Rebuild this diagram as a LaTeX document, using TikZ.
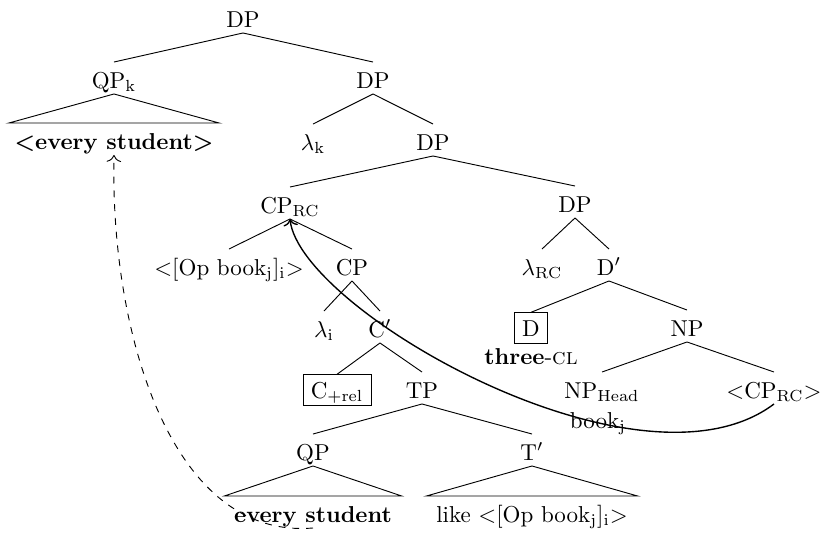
\documentclass[tikz,border=0pt]{standalone}
\usetikzlibrary{arrows.meta}
\begin{document}
\begin{tikzpicture}[x=0.4348pt,y=-0.4348pt,
  lbl/.style={inner sep=0pt,outer sep=0pt,text height=11.3pt,text depth=2.6pt,anchor=base},
  tri/.style={lbl,inner xsep=4.3pt},
  boxed/.style={draw,line width=0.4pt,inner sep=3.4pt,outer sep=0pt,text height=6.9pt,text depth=0pt,anchor=base},
  note/.style={inner sep=0pt,outer sep=0pt,anchor=base},
  edge/.style={line width=0.4pt},
  move/.style={line width=0.6pt,-{To[length=3pt]}},
  qmove/.style={line width=0.4pt,dashed,-{To[length=3pt]}}]
\useasboundingbox (0,0) rectangle (822,532);

% level 0--2
\node[lbl] (dp0) at (243,27) {DP};
\node[lbl] (qpk) at (114,88) {QP$_{\mathrm{k}}$};
\node[lbl] (dp1) at (373,88) {DP};
\node[tri,inner xsep=2.5pt] (ev1) at (114,149) {\textbf{<every student>}};
\node[lbl] (lamk) at (313,150) {$\lambda_{\mathrm{k}}$};
\node[lbl] (dp2) at (433,150) {DP};

% relative clause
\node[lbl] (cprc) at (290,213) {CP$_{\mathrm{RC}}$};
\node[lbl] (opbook) at (229,275) {<[Op book$_{\mathrm{j}}$]$_{\mathrm{i}}$>};
\node[lbl] (cp) at (352,275) {CP};
\node[lbl] (lami) at (324,337) {$\lambda_{\mathrm{i}}$};
\node[lbl] (cbar) at (380,337) {C$'$};
\node[boxed] (crel) at (337,398) {C$_{\mathrm{+rel}}$};
\node[lbl] (tp) at (422,398) {TP};
\node[lbl] (qp) at (313,460) {QP};
\node[lbl] (tbar) at (532,460) {T$'$};
\node[tri] (ev2) at (313,522) {\textbf{every student}};
\node[tri] (like) at (532,522) {like <[Op book$_{\mathrm{j}}$]$_{\mathrm{i}}$>};

% determiner phrase
\node[lbl] (dp3) at (575,212) {DP};
\node[lbl] (lamrc) at (542,275) {$\lambda_{\mathrm{RC}}$};
\node[lbl] (dbar) at (609,275) {D$'$};
\node[boxed] (dbox) at (531,336) {D};
\node[note] (three) at (531,364) {\textbf{three}-\textsc{cl}};
\node[lbl] (np) at (687,336) {NP};
\node[lbl] (nphead) at (602,398) {NP$_{\mathrm{Head}}$};
\node[note] (bookj) at (598,428) {book$_{\mathrm{j}}$};
\node[lbl] (cprc2) at (774,398) {<CP$_{\mathrm{RC}}$>};

% branches
\draw[edge] (dp0.south) -- (qpk.north);
\draw[edge] (dp0.south) -- (dp1.north);
\draw[edge] (qpk.south) -- (ev1.north west) -- (ev1.north east) -- cycle;
\draw[edge] (dp1.south) -- (lamk.north);
\draw[edge] (dp1.south) -- (dp2.north);
\draw[edge] (dp2.south) -- (cprc.north);
\draw[edge] (dp2.south) -- (dp3.north);
\draw[edge] (cprc.south) -- (opbook.north);
\draw[edge] (cprc.south) -- (cp.north);
\draw[edge] (cp.south) -- (lami.north);
\draw[edge] (cp.south) -- (cbar.north);
\draw[edge] (cbar.south) -- (crel.north);
\draw[edge] (cbar.south) -- (tp.north);
\draw[edge] (tp.south) -- (qp.north);
\draw[edge] (tp.south) -- (tbar.north);
\draw[edge] (qp.south) -- (ev2.north west) -- (ev2.north east) -- cycle;
\draw[edge] (tbar.south) -- (like.north west) -- (like.north east) -- cycle;
\draw[edge] (dp3.south) -- (lamrc.north);
\draw[edge] (dp3.south) -- (dbar.north);
\draw[edge] (dbar.south) -- (dbox.north);
\draw[edge] (dbar.south) -- (np.north);
\draw[edge] (np.south) -- (nphead.north);
\draw[edge] (np.south) -- (cprc2.north);

% movement arrows
\draw[move] (cprc2.south) .. controls (640,505) and (300,310) .. (cprc.south);
\draw[qmove] (ev2.south) .. controls (170,540) and (110,330) .. (ev1.south);
\end{tikzpicture}
\end{document}
